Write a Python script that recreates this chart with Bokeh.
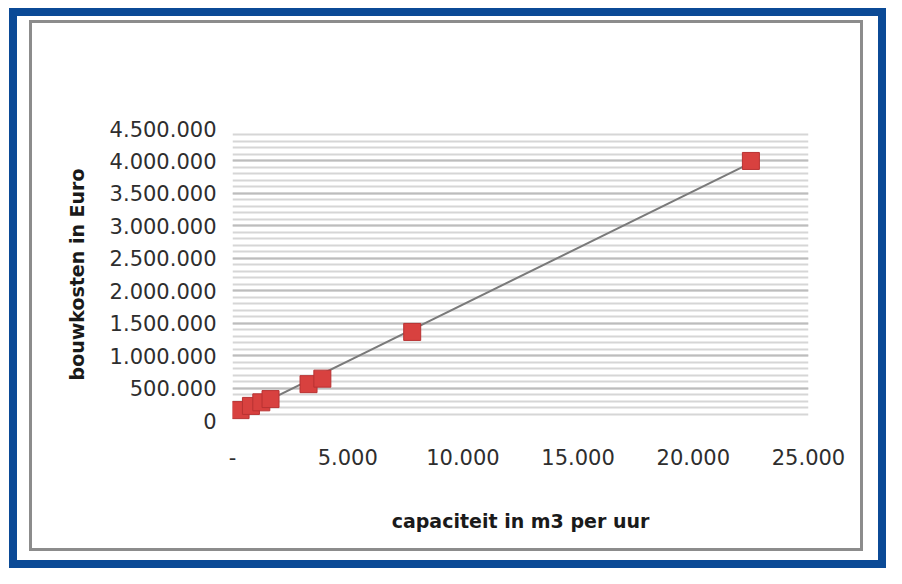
from bokeh.plotting import figure
from bokeh.models import FixedTicker, Range1d
from bokeh.embed import file_html
from bokeh.resources import INLINE
import numpy as np

# data
capaciteit = [350, 800, 1250, 1650, 3300, 3900, 7800, 22500]
bouwkosten = [160000, 225000, 280000, 330000, 560000, 645000, 1365000, 4000000]

x_ticks = [0, 5000, 10000, 15000, 20000, 25000]
x_labels = ["-", "5.000", "10.000", "15.000", "20.000", "25.000"]
y_ticks = [0, 500000, 1000000, 1500000, 2000000, 2500000, 3000000, 3500000, 4000000, 4500000]
y_labels = ["0", "500.000", "1.000.000", "1.500.000", "2.000.000", "2.500.000",
            "3.000.000", "3.500.000", "4.000.000", "4.500.000"]
y_minor = list(range(0, 4500001, 100000))

W, H = 886, 568

# decorative frame lines (x, y, w, h, colour) in pixels of the figure box
frame_lines = [
    (9, 8, 8, 560, "#0b4a96"), (9, 8, 877, 8, "#0b4a96"),
    (878, 8, 8, 560, "#0b4a96"), (9, 560, 877, 8, "#0b4a96"),
    (29, 20, 3, 531, "#8c8c8c"), (29, 20, 834, 3, "#8c8c8c"),
    (860, 20, 3, 531, "#8c8c8c"), (29, 548, 834, 3, "#8c8c8c"),
]
bg_img = ", ".join(f"linear-gradient({c},{c})" for (_, _, _, _, c) in frame_lines)
bg_pos = ", ".join(f"{x}px {y}px" for (x, y, _, _, _) in frame_lines)
bg_size = ", ".join(f"{w}px {h}px" for (_, _, w, h, _) in frame_lines)

p = figure(width=W, height=H, output_backend="svg", toolbar_location=None,
           x_range=Range1d(0, 25000), y_range=Range1d(0, 4500000),
           min_border_left=232, min_border_right=78, min_border_top=128, min_border_bottom=148)
p.styles = {"background-color": "white", "background-image": bg_img,
            "background-position": bg_pos, "background-size": bg_size,
            "background-repeat": "no-repeat"}
p.background_fill_color = "white"
p.border_fill_color = None
p.outline_line_color = None

# axes
p.xaxis.ticker = FixedTicker(ticks=x_ticks)
p.xaxis.major_label_overrides = {t: l for t, l in zip(x_ticks, x_labels)}
p.yaxis.ticker = FixedTicker(ticks=y_ticks, minor_ticks=y_minor)
p.yaxis.major_label_overrides = {t: l for t, l in zip(y_ticks, y_labels)}
for ax in (p.xaxis[0], p.yaxis[0]):
    ax.axis_line_color = None
    ax.major_tick_line_color = None
    ax.minor_tick_line_color = None
    ax.major_label_text_font = "DejaVu Sans"
    ax.major_label_text_font_size = "21px"
    ax.major_label_text_color = "#2e2e2e"
    ax.axis_label_text_font = "DejaVu Sans"
    ax.axis_label_text_font_size = "19px"
    ax.axis_label_text_font_style = "bold"
    ax.axis_label_text_color = "#1a1a1a"
p.xaxis.axis_label = "capaciteit in m3 per uur"
p.yaxis.axis_label = "bouwkosten in Euro"
p.xaxis.major_label_standoff = 22
p.xaxis.axis_label_standoff = 42
p.yaxis.major_label_standoff = 10
p.yaxis.axis_label_standoff = 19

# grid
p.xgrid.grid_line_color = None
p.ygrid.grid_line_color = "#bdbdbd"
p.ygrid.grid_line_width = 2
p.ygrid.minor_grid_line_color = "#d6d6d6"
p.ygrid.minor_grid_line_width = 2

# trendline (linear fit of the data)
a, b = np.polyfit(capaciteit, bouwkosten, 1)
tx = [min(capaciteit), max(capaciteit)]
ty = [a * v + b for v in tx]
p.line(tx, ty, line_color="#7a7a7a", line_width=2)

p.scatter(capaciteit, bouwkosten, marker="square", size=17,
          fill_color="#d8413f", line_color="#b83232", line_width=1)

open("out.html", "w").write(file_html(p, INLINE))
